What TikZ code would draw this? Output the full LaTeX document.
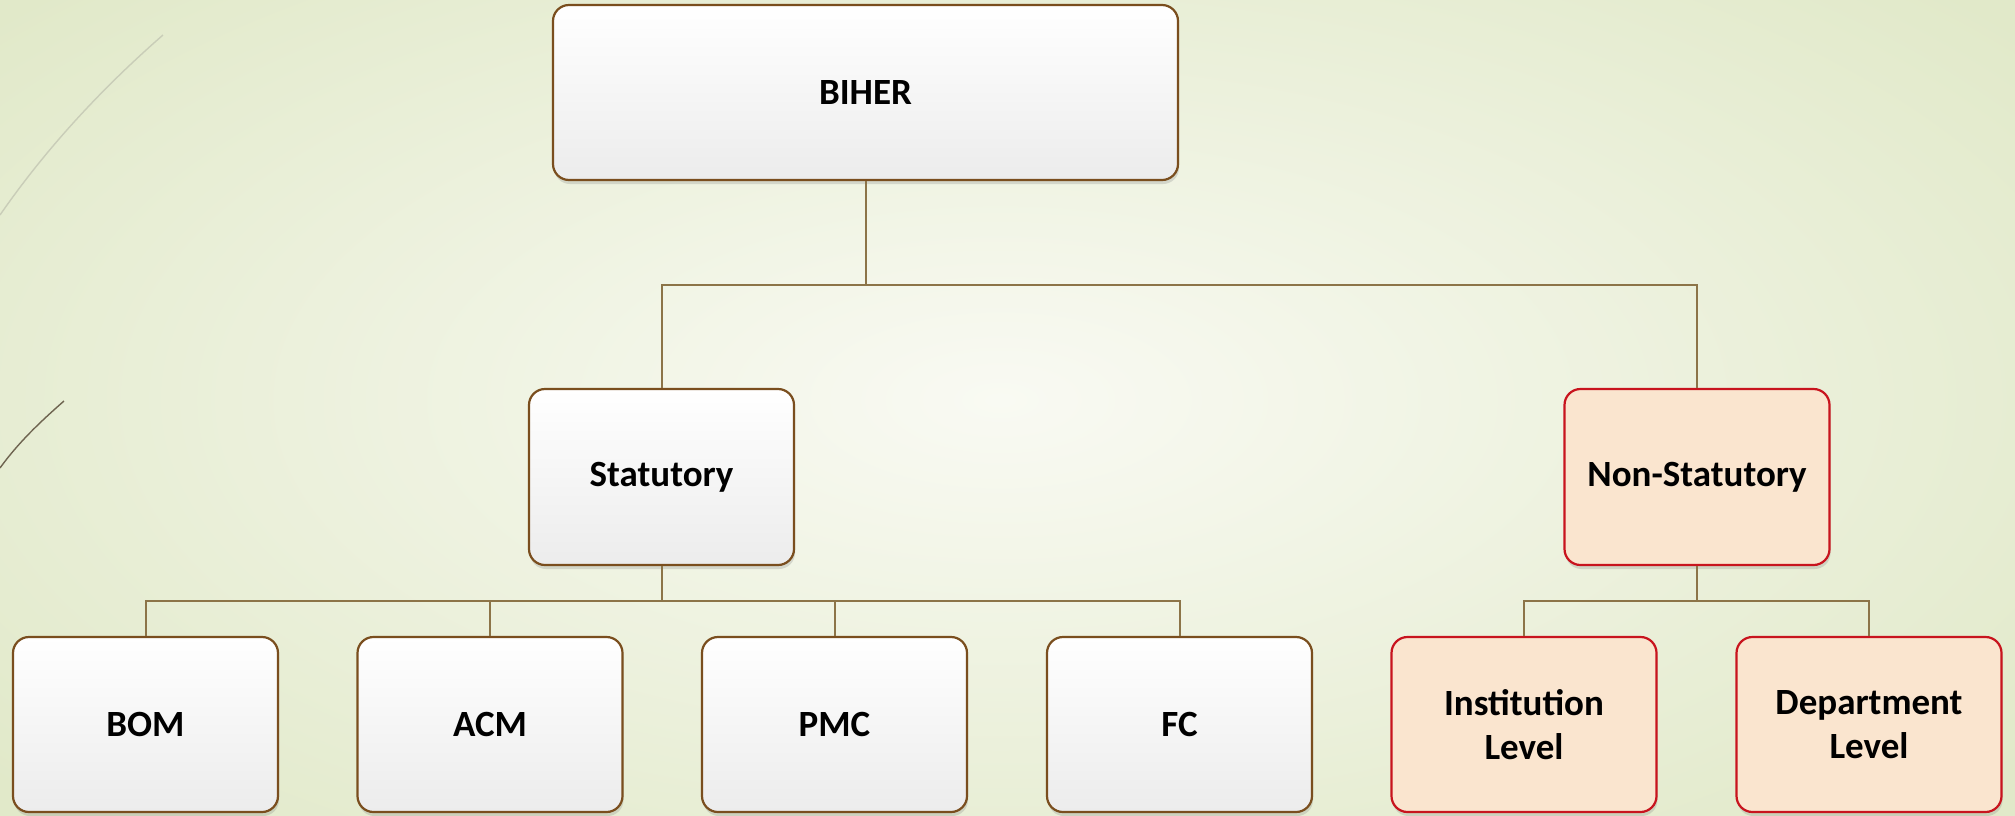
\documentclass[tikz,border=0pt]{standalone}
\usepackage{fontspec}
\setmainfont{Carlito}
\usetikzlibrary{shadows}
\definecolor{bgin}{HTML}{F9FAF3}
\definecolor{bgout}{HTML}{E1E9C9}
\definecolor{boxline}{HTML}{7A4E1E}
\definecolor{conn}{HTML}{8C7448}
\definecolor{redline}{HTML}{C8141E}
\definecolor{peach}{HTML}{FAE5CF}
\definecolor{boxbot}{HTML}{ECECEC}
\definecolor{deco1}{HTML}{C9CDB8}
\definecolor{deco2}{HTML}{6E6450}
\begin{document}
\begin{tikzpicture}[x=1pt,y=-1pt,
  box/.style={draw=boxline, line width=2.2pt, rounded corners=16pt,
    top color=white, bottom color=boxbot, align=center,
    font=\fontsize{37}{44}\selectfont\bfseries,
    drop shadow={shadow xshift=1pt, shadow yshift=-4pt, opacity=0.25}},
  redbox/.style={box, draw=redline, top color=peach, bottom color=peach},
  link/.style={draw=conn, line width=2pt}]
\useasboundingbox (0,0) rectangle (2015,815);
\shade[inner color=bgin, outer color=bgout] (-300,-200) rectangle (2300,1000);
% decorative lines
\draw[color=deco1, line width=1.4pt] (163,35) .. controls (100,90) and (45,150) .. (0,215);
\draw[color=deco2, line width=1.4pt] (64,401) .. controls (40,422) and (18,443) .. (0,468);
% nodes
\node[box, minimum width=625, minimum height=175] (biher) at (865.5,92.5) {BIHER};
\node[box, minimum width=265, minimum height=176] (stat) at (661.5,477) {Statutory};
\node[redbox, minimum width=265, minimum height=176] (nonstat) at (1697,477) {Non-Statutory};
\node[box, minimum width=265, minimum height=175] (bom) at (145.5,724.5) {BOM};
\node[box, minimum width=265, minimum height=175] (acm) at (490,724.5) {ACM};
\node[box, minimum width=265, minimum height=175] (pmc) at (834.5,724.5) {PMC};
\node[box, minimum width=265, minimum height=175] (fc) at (1179.5,724.5) {FC};
\node[redbox, minimum width=265, minimum height=175] (inst) at (1524,724.5) {Institution\\Level};
\node[redbox, minimum width=265, minimum height=175] (dept) at (1869,724.5) {Department\\Level};
\coordinate (j1) at (865.5,285);
\coordinate (j2) at (661.5,601);
\coordinate (j3) at (1697,601);
% connectors
\path[link] (biher.south) -- (j1);
\path[link] (j1) -| (stat.north);
\path[link] (j1) -| (nonstat.north);
\path[link] (stat.south) -- (j2);
\path[link] (j2) -| (bom.north);
\path[link] (j2) -| (acm.north);
\path[link] (j2) -| (pmc.north);
\path[link] (j2) -| (fc.north);
\path[link] (nonstat.south) -- (j3);
\path[link] (j3) -| (inst.north);
\path[link] (j3) -| (dept.north);
\end{tikzpicture}
\end{document}
